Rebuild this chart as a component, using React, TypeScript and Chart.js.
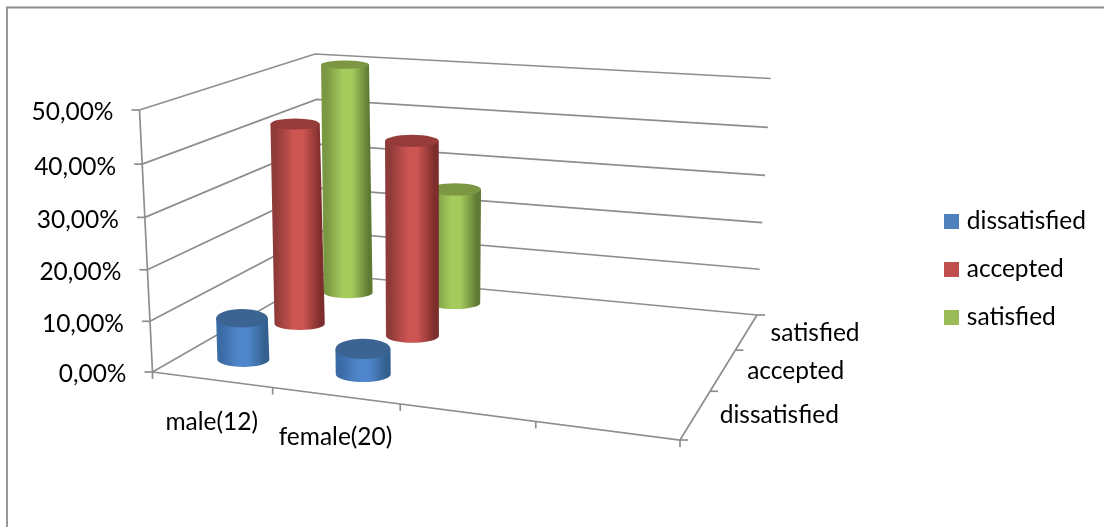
import React, { useEffect, useRef } from "react";
import { Chart, registerables } from "chart.js";

Chart.register(...registerables);

const categories = ["male(12)", "female(20)", "", ""];
const depthCategories = ["dissatisfied", "accepted", "satisfied"];
const dissatisfied = [8.33, 5, null, null];
const accepted = [41.67, 40, null, null];
const satisfied = [50, 25, null, null];
const yTicksMax = 50;
const yTickStep = 10;

const FONT = "Lato, 'Open Sans', sans-serif";
const FONT_SIZE = 24.5;
const LINE = "#8e8e8e";
const TEXT = "#000";

type P = [number, number];
// frame of the 3-D box: floor and ceiling corners (front-left, front-right, back-right, back-left)
const FLOOR: P[] = [[152.5, 372], [680, 440], [757, 315], [323, 274]];
const CEIL: P[] = [[139.5, 110], [693, 159], [770.7, 78.5], [315, 54]];
const VANISH: P = [430, 5965];
const RU = 0.055;
const RV = 0.085;

const SHADES: Record<string, { edgeL: string; mid: string; edgeR: string; cap: string }> = {
  dissatisfied: { edgeL: "#3b6ba5", mid: "#5087cc", edgeR: "#33608f", cap: "#3b6493" },
  accepted: { edgeL: "#8f3b39", mid: "#cc5451", edgeR: "#7d2e2c", cap: "#953c3a" },
  satisfied: { edgeL: "#7a9842", mid: "#a5cb5d", edgeR: "#5f7a33", cap: "#7b9743" },
};
const COLORS = ["#4f81bd", "#c0504d", "#9bbb59"];

function quad(q: P[]) {
  const [p0, p1, p2, p3] = q;
  const dx1 = p1[0] - p2[0], dx2 = p3[0] - p2[0], sx = p0[0] - p1[0] + p2[0] - p3[0];
  const dy1 = p1[1] - p2[1], dy2 = p3[1] - p2[1], sy = p0[1] - p1[1] + p2[1] - p3[1];
  const den = dx1 * dy2 - dx2 * dy1;
  const g = (sx * dy2 - dx2 * sy) / den, h = (dx1 * sy - sx * dy1) / den;
  const a = p1[0] - p0[0] + g * p1[0], b = p3[0] - p0[0] + h * p3[0], c = p0[0];
  const d = p1[1] - p0[1] + g * p1[1], e = p3[1] - p0[1] + h * p3[1], f = p0[1];
  return (u: number, v: number): P => {
    const w = g * u + h * v + 1;
    return [(a * u + b * v + c) / w, (d * u + e * v + f) / w];
  };
}
const floorMap = quad(FLOOR);
const ceilMap = quad(CEIL);
const warp = (u: number) => u + 0.026 * u * (1 - u);
function proj(u0: number, v: number, t: number): P {
  const u = warp(u0);
  const k = (0.96 * t) / (1 - 0.04 * t);
  const a = floorMap(u, v), b = ceilMap(u, v);
  return [a[0] + (b[0] - a[0]) * k, a[1] + (b[1] - a[1]) * k];
}
// upright point of a column: rises from the floor towards the vertical vanishing line
function column(u: number, v: number, t: number): P {
  const f = proj(u, v, 0);
  const y = proj(u, v, t)[1];
  return [f[0] - 3 * v + ((f[0] - VANISH[0]) / (VANISH[1] - f[1])) * (f[1] - y), y];
}

function line(ctx: CanvasRenderingContext2D, pts: P[], w = 1.7, color = LINE) {
  ctx.beginPath();
  pts.forEach((p, i) => (i ? ctx.lineTo(p[0], p[1]) : ctx.moveTo(p[0], p[1])));
  ctx.lineWidth = w;
  ctx.strokeStyle = color;
  ctx.stroke();
}

const frac = (s: any, px: number) => (px - s.left) / (s.right - s.left);
const hFrac = (s: any, v: number) => (s.bottom - s.getPixelForValue(v)) / (s.bottom - s.top);

const scene = {
  id: "scene",
  beforeDatasetsDraw(chart: any) {
    const { ctx, scales } = chart;
    const { x, y, z } = scales;
    ctx.save();
    ctx.lineCap = "butt";
    ctx.fillStyle = TEXT;
    ctx.font = `${FONT_SIZE}px ${FONT}`;
    // chart frame
    line(ctx, [[7, 527], [7, 7.5], [1104, 7.5]], 1.8, "#8c8c8c");
    // walls
    y.ticks.forEach((tk: any) => {
      const t = hFrac(y, tk.value);
      line(ctx, [proj(0, 0, t), proj(0, 1, t), proj(1, 1, t)]);
      const p = proj(0, 0, t);
      line(ctx, [[p[0] - 8, p[1]], p]);
      ctx.textAlign = "right";
      ctx.textBaseline = "middle";
      ctx.fillText(tk.label, p[0] - 26, p[1] + 2.5);
    });
    line(ctx, [proj(0, 0, 0), proj(0, 0, 1)]);
    line(ctx, [proj(0, 0, 0), proj(1, 0, 0), proj(1, 1, 0)]);
    // category axis
    const n = categories.length;
    for (let i = 0; i <= n; i++) {
      const p = proj(i / n, 0, 0);
      line(ctx, [p, [p[0], p[1] + 7]]);
    }
    categories.forEach((_, i) => {
      const label = x.getLabelForValue(i);
      if (!label) return;
      const p = proj(frac(x, x.getPixelForValue(i)), 0, 0);
      ctx.textAlign = "center";
      ctx.textBaseline = "middle";
      ctx.fillText(label, p[0], p[1] + 42);
    });
    // depth axis
    const m = depthCategories.length;
    for (let i = 0; i <= m; i++) {
      const p = proj(1, i / m, 0);
      line(ctx, [p, [p[0] + 8, p[1]]]);
    }
    depthCategories.forEach((_, i) => {
      const p = proj(1, frac(z, z.getPixelForValue(i)), 0);
      ctx.textAlign = "left";
      ctx.textBaseline = "middle";
      ctx.fillText(z.getLabelForValue(i), p[0] + 24, p[1] + 1);
    });
    ctx.restore();
  },
  beforeDatasetDraw(chart: any, args: any) {
    const { ctx, scales } = chart;
    const { x, y, z } = scales;
    const ds = chart.data.datasets[args.index];
    const shade = SHADES[ds.label];
    const v = frac(z, z.getPixelForValue(depthCategories.indexOf(ds.label)));
    ds.data.forEach((val: number | null, i: number) => {
      if (val === null) return;
      const u = frac(x, x.getPixelForValue(i));
      const t = hFrac(y, val);
      const radii = (h: number) => [
        (Math.abs(proj(u + RU, v, h)[0] - proj(u - RU, v, h)[0]) / 2) * (1 + 0.08 * v),
        Math.abs(proj(u, v - RV, h)[1] - proj(u, v + RV, h)[1]) / 2,
      ];
      const top = column(u, v, t), bot = column(u, v, 0);
      const [rxT, ryT] = radii(t);
      const [rxB0, ryB0] = radii(0);
      const rxB = rxB0, ryB = ryB0 * 0.75;
      const l = Math.min(top[0] - rxT, bot[0] - rxB), r = Math.max(top[0] + rxT, bot[0] + rxB);
      const g = ctx.createLinearGradient(l, 0, r, 0);
      g.addColorStop(0, shade.edgeL);
      g.addColorStop(0.1, shade.edgeL);
      g.addColorStop(0.42, shade.mid);
      g.addColorStop(0.6, shade.mid);
      g.addColorStop(0.92, shade.edgeR);
      g.addColorStop(1, shade.edgeR);
      ctx.save();
      ctx.beginPath();
      ctx.moveTo(top[0] - rxT, top[1]);
      ctx.lineTo(bot[0] - rxB, bot[1]);
      ctx.ellipse(bot[0], bot[1], rxB, ryB, 0, Math.PI, 0, true);
      ctx.lineTo(top[0] + rxT, top[1]);
      ctx.closePath();
      ctx.fillStyle = g;
      ctx.fill();
      ctx.beginPath();
      ctx.ellipse(top[0], top[1], rxT, ryT, 0, 0, 2 * Math.PI);
      ctx.fillStyle = shade.cap;
      ctx.fill();
      ctx.restore();
    });
    return false;
  },
};

function swatch(color: string) {
  const c = document.createElement("canvas");
  c.width = 15;
  c.height = 15;
  const g = c.getContext("2d")!;
  g.fillStyle = color;
  g.fillRect(0, 0, 15, 15);
  return c;
}

export default function App() {
  const ref = useRef<HTMLCanvasElement>(null);
  useEffect(() => {
    document.body.style.margin = "0";
    const chart = new Chart(ref.current!, {
      type: "bar",
      data: {
        labels: categories,
        datasets: [
          { label: "dissatisfied", data: dissatisfied, backgroundColor: COLORS[0] },
          { label: "accepted", data: accepted, backgroundColor: COLORS[1] },
          { label: "satisfied", data: satisfied, backgroundColor: COLORS[2] },
        ],
      } as any,
      options: {
        responsive: false,
        animation: false,
        layout: { padding: { top: 111, bottom: 100, left: 100, right: 8 } },
        scales: {
          x: { display: false, offset: true },
          z: { type: "category", axis: "x", labels: depthCategories, display: false, offset: true },
          y: {
            display: false,
            min: 0,
            max: yTicksMax,
            ticks: {
              stepSize: yTickStep,
              callback: (v: any) => `${Number(v).toFixed(2).replace(".", ",")}%`,
            },
          },
        } as any,
        plugins: {
          tooltip: { enabled: false },
          legend: {
            position: "right",
            labels: {
              color: TEXT,
              font: { family: FONT, size: FONT_SIZE },
              usePointStyle: true,
              boxWidth: 6,
              boxHeight: 15,
              padding: 23.5,
              generateLabels: (c: any) =>
                Chart.defaults.plugins.legend.labels
                  .generateLabels(c)
                  .map((it: any) => ({ ...it, pointStyle: swatch(it.fillStyle) })),
            },
          },
        },
      } as any,
      plugins: [scene],
    });
    return () => chart.destroy();
  }, []);
  return (
    <canvas
      ref={ref}
      width={1104}
      height={527}
      style={{ display: "block", position: "absolute", left: 0, top: 0, background: "#fff" }}
    />
  );
}
